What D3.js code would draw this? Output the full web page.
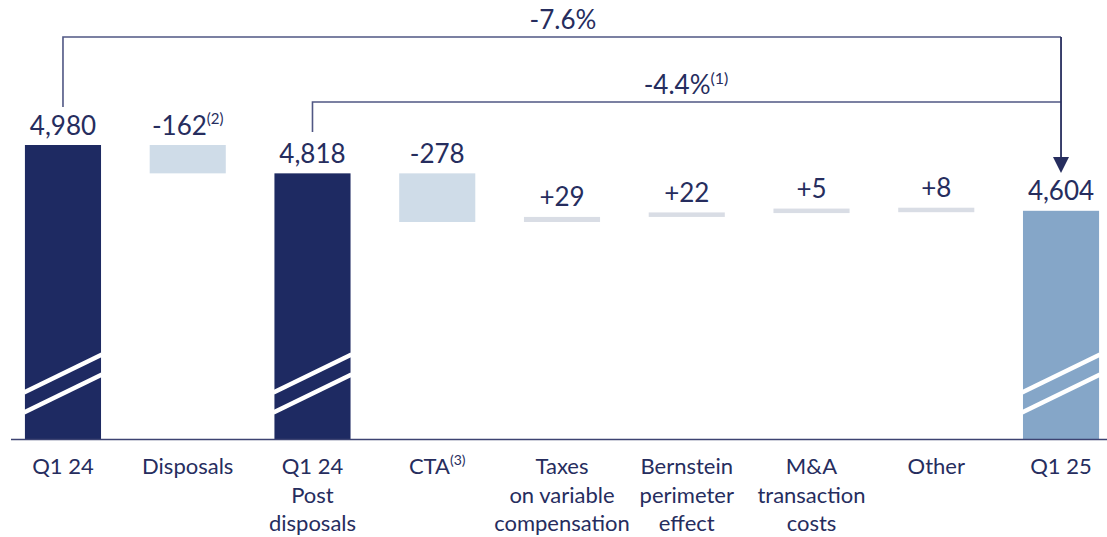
<!DOCTYPE html>
<html>
<head>
<meta charset="utf-8">
<script src="https://cdn.jsdelivr.net/npm/d3@7"></script>
<style>
  body { margin: 0; background: #fff; }
  text { font-family: "Source Sans Pro", Lato, "Open Sans", sans-serif; fill: #262d5e; }
</style>
</head>
<body>
<script>
var width = 1107, height = 537;

// data
var categories = ["Q1 24", "Disposals", "Q1 24 Post disposals", "CTA", "Taxes on variable compensation",
                  "Bernstein perimeter effect", "M&A transaction costs", "Other", "Q1 25"];
var labelLines = [["Q1 24"], ["Disposals"], ["Q1 24", "Post", "disposals"], ["CTA"], ["Taxes", "on variable", "compensation"],
                  ["Bernstein", "perimeter", "effect"], ["M&A", "transaction", "costs"], ["Other"], ["Q1 25"]];
var labelSup = [null, null, null, "(3)", null, null, null, null, null];
var kinds = ["total", "delta", "total", "delta", "delta", "delta", "delta", "delta", "final"];
var values = [4980, -162, 4818, -278, 29, 22, 5, 8, 4604];
var valueText = ["4,980", "-162", "4,818", "-278", "+29", "+22", "+5", "+8", "4,604"];
var valueSup = [null, "(2)", null, null, null, null, null, null, null];
var brackets = [
  {from: 0, to: 8, text: "-7.6%", sup: null},
  {from: 2, to: 8, text: "-4.4%", sup: "(1)"}
];

var colors = {total: "#1e2a62", final: "#85a6c8", neg: "#cfdce8", pos: "#d9dde5"};

var svg = d3.select("body").append("svg")
    .attr("width", width)
    .attr("height", height);

var baseline = 439;

var x = d3.scaleBand()
    .domain(categories)
    .range([0.6, 1123.4])
    .paddingInner(0.39)
    .paddingOuter(0.195);

// broken axis: only the top part of the scale is shown
var y = d3.scaleLinear()
    .domain([3300, 5000])
    .range([baseline, 141.5]);

// compute waterfall segments
var running = 0;
var bars = values.map(function(v, i) {
  var d = {cat: categories[i], kind: kinds[i], i: i};
  if (kinds[i] !== "delta") {
    d.y0 = 3300; d.y1 = v; running = v;
  } else {
    d.y0 = running; d.y1 = running + v; running = running + v;
  }
  return d;
});

function barTop(d) {
  var t = Math.min(y(d.y0), y(d.y1)), b = Math.max(y(d.y0), y(d.y1));
  if (b - t < 4.5) t = b - 4.5;
  return t;
}
function barBottom(d) {
  return Math.max(y(d.y0), y(d.y1));
}

svg.selectAll("rect.bar")
  .data(bars)
  .enter().append("rect")
    .attr("class", "bar")
    .attr("x", function(d) { return x(d.cat); })
    .attr("width", x.bandwidth())
    .attr("y", function(d) { return barTop(d); })
    .attr("height", function(d) { return barBottom(d) - barTop(d); })
    .attr("fill", function(d) {
      if (d.kind === "total") return colors.total;
      if (d.kind === "final") return colors.final;
      return d.y1 < d.y0 ? colors.neg : colors.pos;
    });

// break marks on the total bars
var totals = bars.filter(function(d) { return d.kind !== "delta"; });
[392, 412].forEach(function(yy) {
  svg.selectAll(null)
    .data(totals)
    .enter().append("line")
      .attr("x1", function(d) { return x(d.cat) - 1; })
      .attr("x2", function(d) { return x(d.cat) + x.bandwidth() + 1; })
      .attr("y1", yy + 0.5)
      .attr("y2", yy - 37.5)
      .attr("stroke", "#fff")
      .attr("stroke-width", 4.5);
});

// axis line
svg.append("line")
    .attr("x1", 11).attr("x2", width)
    .attr("y1", baseline + 0.5).attr("y2", baseline + 0.5)
    .attr("stroke", "#3d4372")
    .attr("stroke-width", 1.5);

// value labels
var vl = svg.selectAll("text.val")
  .data(bars)
  .enter().append("text")
    .attr("class", "val")
    .attr("x", function(d) { return x(d.cat) + x.bandwidth() / 2; })
    .attr("y", function(d) { return barTop(d) - 10.5; })
    .attr("text-anchor", "middle")
    .attr("font-size", 26);
vl.append("tspan").text(function(d) { return valueText[d.i]; });
vl.filter(function(d) { return valueSup[d.i]; })
  .append("tspan")
    .attr("font-size", 15)
    .attr("dy", -11)
    .text(function(d) { return valueSup[d.i]; });

// category labels
var cl = svg.selectAll("text.cat")
  .data(bars)
  .enter().append("text")
    .attr("class", "cat")
    .attr("text-anchor", "middle")
    .attr("font-size", 22)
    .attr("x", function(d) { return x(d.cat) + x.bandwidth() / 2; })
    .attr("y", 474);
cl.each(function(d) {
  var t = d3.select(this);
  labelLines[d.i].forEach(function(line, k) {
    t.append("tspan")
      .attr("x", x(d.cat) + x.bandwidth() / 2)
      .attr("dy", k === 0 ? 0 : 28.5)
      .text(line);
  });
  if (labelSup[d.i]) {
    t.append("tspan").attr("font-size", 14).attr("dy", -9).text(labelSup[d.i]);
  }
});

// brackets
var lineY = [37, 102];
var startY = [107, 132];
var cx = function(i) { return x(categories[i]) + x.bandwidth() / 2; };

brackets.forEach(function(b, k) {
  var xs = cx(b.from), xe = cx(b.to);
  svg.append("path")
    .attr("d", "M" + xs + "," + startY[k] + "V" + lineY[k] + "H" + xe)
    .attr("fill", "none")
    .attr("stroke", "#505784")
    .attr("stroke-width", 1.6);
  var lbl = svg.append("text")
    .attr("text-anchor", "middle")
    .attr("font-size", 26)
    .attr("x", k === 0 ? 563 : 686)
    .attr("y", lineY[k] - 8);
  lbl.append("tspan").text(b.text);
  if (b.sup) lbl.append("tspan").attr("font-size", 16).attr("dy", -10).text(b.sup);
});

// arrow down to final bar
var ax = cx(8);
svg.append("line")
    .attr("x1", ax).attr("x2", ax)
    .attr("y1", lineY[0]).attr("y2", 160)
    .attr("stroke", "#262d5e")
    .attr("stroke-width", 1.8);
svg.append("path")
    .attr("d", "M" + (ax - 8) + ",157L" + (ax + 8) + ",157L" + ax + ",173Z")
    .attr("fill", "#262d5e");
</script>
</body>
</html>
